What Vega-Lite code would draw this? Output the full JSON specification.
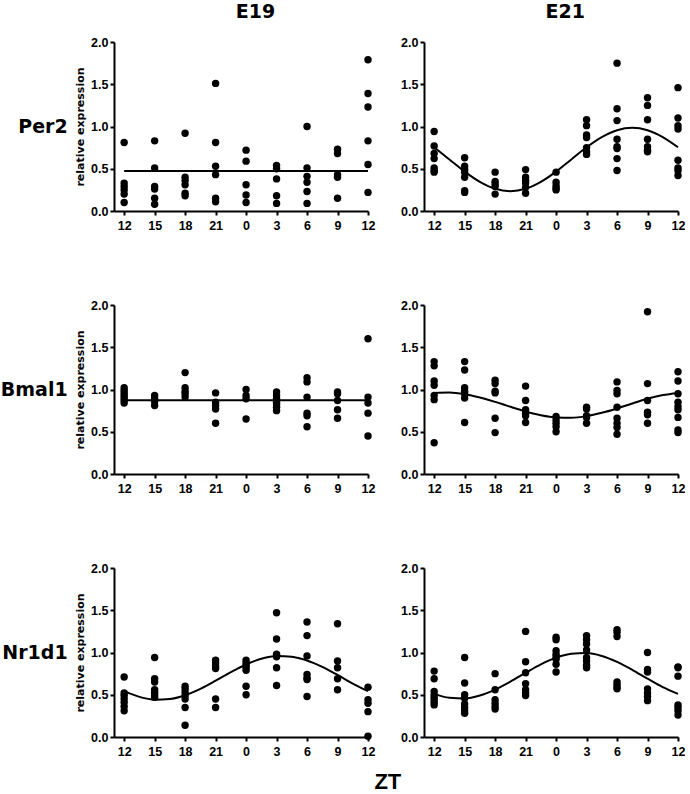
{
  "$schema": "https://vega.github.io/schema/vega-lite/v6.json",
  "padding": {"left": 0, "top": 3, "right": 0, "bottom": 0},
  "background": "white",
  "title": {"text": "ZT", "orient": "bottom", "anchor": "middle", "font": "Liberation Sans", "fontSize": 22, "fontWeight": "bold", "color": "black", "dx": 45, "offset": 14},
  "data": {"values": [
    {"age":"E19","gene":"Per2","kind":"pt","t":0,"v":0.81},{"age":"E19","gene":"Per2","kind":"pt","t":0,"v":0.33},{"age":"E19","gene":"Per2","kind":"pt","t":0,"v":0.29},{"age":"E19","gene":"Per2","kind":"pt","t":0,"v":0.25},{"age":"E19","gene":"Per2","kind":"pt","t":0,"v":0.2},{"age":"E19","gene":"Per2","kind":"pt","t":0,"v":0.1},
    {"age":"E19","gene":"Per2","kind":"pt","t":3,"v":0.83},{"age":"E19","gene":"Per2","kind":"pt","t":3,"v":0.51},{"age":"E19","gene":"Per2","kind":"pt","t":3,"v":0.29},{"age":"E19","gene":"Per2","kind":"pt","t":3,"v":0.26},{"age":"E19","gene":"Per2","kind":"pt","t":3,"v":0.15},{"age":"E19","gene":"Per2","kind":"pt","t":3,"v":0.08},
    {"age":"E19","gene":"Per2","kind":"pt","t":6,"v":0.92},{"age":"E19","gene":"Per2","kind":"pt","t":6,"v":0.4},{"age":"E19","gene":"Per2","kind":"pt","t":6,"v":0.36},{"age":"E19","gene":"Per2","kind":"pt","t":6,"v":0.31},{"age":"E19","gene":"Per2","kind":"pt","t":6,"v":0.21},{"age":"E19","gene":"Per2","kind":"pt","t":6,"v":0.18},
    {"age":"E19","gene":"Per2","kind":"pt","t":9,"v":1.51},{"age":"E19","gene":"Per2","kind":"pt","t":9,"v":0.81},{"age":"E19","gene":"Per2","kind":"pt","t":9,"v":0.53},{"age":"E19","gene":"Per2","kind":"pt","t":9,"v":0.43},{"age":"E19","gene":"Per2","kind":"pt","t":9,"v":0.15},{"age":"E19","gene":"Per2","kind":"pt","t":9,"v":0.11},
    {"age":"E19","gene":"Per2","kind":"pt","t":12,"v":0.72},{"age":"E19","gene":"Per2","kind":"pt","t":12,"v":0.59},{"age":"E19","gene":"Per2","kind":"pt","t":12,"v":0.31},{"age":"E19","gene":"Per2","kind":"pt","t":12,"v":0.19},{"age":"E19","gene":"Per2","kind":"pt","t":12,"v":0.1},
    {"age":"E19","gene":"Per2","kind":"pt","t":15,"v":0.54},{"age":"E19","gene":"Per2","kind":"pt","t":15,"v":0.5},{"age":"E19","gene":"Per2","kind":"pt","t":15,"v":0.38},{"age":"E19","gene":"Per2","kind":"pt","t":15,"v":0.18},{"age":"E19","gene":"Per2","kind":"pt","t":15,"v":0.09},
    {"age":"E19","gene":"Per2","kind":"pt","t":18,"v":1.0},{"age":"E19","gene":"Per2","kind":"pt","t":18,"v":0.51},{"age":"E19","gene":"Per2","kind":"pt","t":18,"v":0.41},{"age":"E19","gene":"Per2","kind":"pt","t":18,"v":0.34},{"age":"E19","gene":"Per2","kind":"pt","t":18,"v":0.23},{"age":"E19","gene":"Per2","kind":"pt","t":18,"v":0.09},
    {"age":"E19","gene":"Per2","kind":"pt","t":21,"v":0.73},{"age":"E19","gene":"Per2","kind":"pt","t":21,"v":0.68},{"age":"E19","gene":"Per2","kind":"pt","t":21,"v":0.43},{"age":"E19","gene":"Per2","kind":"pt","t":21,"v":0.4},{"age":"E19","gene":"Per2","kind":"pt","t":21,"v":0.15},
    {"age":"E19","gene":"Per2","kind":"pt","t":24,"v":1.79},{"age":"E19","gene":"Per2","kind":"pt","t":24,"v":1.39},{"age":"E19","gene":"Per2","kind":"pt","t":24,"v":1.23},{"age":"E19","gene":"Per2","kind":"pt","t":24,"v":0.83},{"age":"E19","gene":"Per2","kind":"pt","t":24,"v":0.55},{"age":"E19","gene":"Per2","kind":"pt","t":24,"v":0.22},

    {"age":"E21","gene":"Per2","kind":"pt","t":0,"v":0.94},{"age":"E21","gene":"Per2","kind":"pt","t":0,"v":0.77},{"age":"E21","gene":"Per2","kind":"pt","t":0,"v":0.68},{"age":"E21","gene":"Per2","kind":"pt","t":0,"v":0.62},{"age":"E21","gene":"Per2","kind":"pt","t":0,"v":0.51},{"age":"E21","gene":"Per2","kind":"pt","t":0,"v":0.48},{"age":"E21","gene":"Per2","kind":"pt","t":0,"v":0.46},
    {"age":"E21","gene":"Per2","kind":"pt","t":3,"v":0.63},{"age":"E21","gene":"Per2","kind":"pt","t":3,"v":0.53},{"age":"E21","gene":"Per2","kind":"pt","t":3,"v":0.49},{"age":"E21","gene":"Per2","kind":"pt","t":3,"v":0.46},{"age":"E21","gene":"Per2","kind":"pt","t":3,"v":0.4},{"age":"E21","gene":"Per2","kind":"pt","t":3,"v":0.24},{"age":"E21","gene":"Per2","kind":"pt","t":3,"v":0.22},
    {"age":"E21","gene":"Per2","kind":"pt","t":6,"v":0.46},{"age":"E21","gene":"Per2","kind":"pt","t":6,"v":0.35},{"age":"E21","gene":"Per2","kind":"pt","t":6,"v":0.32},{"age":"E21","gene":"Per2","kind":"pt","t":6,"v":0.29},{"age":"E21","gene":"Per2","kind":"pt","t":6,"v":0.2},
    {"age":"E21","gene":"Per2","kind":"pt","t":9,"v":0.49},{"age":"E21","gene":"Per2","kind":"pt","t":9,"v":0.4},{"age":"E21","gene":"Per2","kind":"pt","t":9,"v":0.36},{"age":"E21","gene":"Per2","kind":"pt","t":9,"v":0.33},{"age":"E21","gene":"Per2","kind":"pt","t":9,"v":0.28},{"age":"E21","gene":"Per2","kind":"pt","t":9,"v":0.21},
    {"age":"E21","gene":"Per2","kind":"pt","t":12,"v":0.46},{"age":"E21","gene":"Per2","kind":"pt","t":12,"v":0.34},{"age":"E21","gene":"Per2","kind":"pt","t":12,"v":0.3},{"age":"E21","gene":"Per2","kind":"pt","t":12,"v":0.27},{"age":"E21","gene":"Per2","kind":"pt","t":12,"v":0.25},
    {"age":"E21","gene":"Per2","kind":"pt","t":15,"v":1.08},{"age":"E21","gene":"Per2","kind":"pt","t":15,"v":1.01},{"age":"E21","gene":"Per2","kind":"pt","t":15,"v":0.9},{"age":"E21","gene":"Per2","kind":"pt","t":15,"v":0.87},{"age":"E21","gene":"Per2","kind":"pt","t":15,"v":0.75},{"age":"E21","gene":"Per2","kind":"pt","t":15,"v":0.7},{"age":"E21","gene":"Per2","kind":"pt","t":15,"v":0.67},
    {"age":"E21","gene":"Per2","kind":"pt","t":18,"v":1.75},{"age":"E21","gene":"Per2","kind":"pt","t":18,"v":1.21},{"age":"E21","gene":"Per2","kind":"pt","t":18,"v":1.07},{"age":"E21","gene":"Per2","kind":"pt","t":18,"v":0.85},{"age":"E21","gene":"Per2","kind":"pt","t":18,"v":0.76},{"age":"E21","gene":"Per2","kind":"pt","t":18,"v":0.74},{"age":"E21","gene":"Per2","kind":"pt","t":18,"v":0.62},{"age":"E21","gene":"Per2","kind":"pt","t":18,"v":0.48},
    {"age":"E21","gene":"Per2","kind":"pt","t":21,"v":1.34},{"age":"E21","gene":"Per2","kind":"pt","t":21,"v":1.25},{"age":"E21","gene":"Per2","kind":"pt","t":21,"v":1.08},{"age":"E21","gene":"Per2","kind":"pt","t":21,"v":0.85},{"age":"E21","gene":"Per2","kind":"pt","t":21,"v":0.76},{"age":"E21","gene":"Per2","kind":"pt","t":21,"v":0.72},{"age":"E21","gene":"Per2","kind":"pt","t":21,"v":0.7},
    {"age":"E21","gene":"Per2","kind":"pt","t":24,"v":1.46},{"age":"E21","gene":"Per2","kind":"pt","t":24,"v":1.1},{"age":"E21","gene":"Per2","kind":"pt","t":24,"v":1.01},{"age":"E21","gene":"Per2","kind":"pt","t":24,"v":0.97},{"age":"E21","gene":"Per2","kind":"pt","t":24,"v":0.6},{"age":"E21","gene":"Per2","kind":"pt","t":24,"v":0.51},{"age":"E21","gene":"Per2","kind":"pt","t":24,"v":0.48},{"age":"E21","gene":"Per2","kind":"pt","t":24,"v":0.42},

    {"age":"E19","gene":"Bmal1","kind":"pt","t":0,"v":1.02},{"age":"E19","gene":"Bmal1","kind":"pt","t":0,"v":0.99},{"age":"E19","gene":"Bmal1","kind":"pt","t":0,"v":0.96},{"age":"E19","gene":"Bmal1","kind":"pt","t":0,"v":0.93},{"age":"E19","gene":"Bmal1","kind":"pt","t":0,"v":0.9},{"age":"E19","gene":"Bmal1","kind":"pt","t":0,"v":0.87},{"age":"E19","gene":"Bmal1","kind":"pt","t":0,"v":0.84},
    {"age":"E19","gene":"Bmal1","kind":"pt","t":3,"v":0.93},{"age":"E19","gene":"Bmal1","kind":"pt","t":3,"v":0.89},{"age":"E19","gene":"Bmal1","kind":"pt","t":3,"v":0.86},{"age":"E19","gene":"Bmal1","kind":"pt","t":3,"v":0.81},
    {"age":"E19","gene":"Bmal1","kind":"pt","t":6,"v":1.2},{"age":"E19","gene":"Bmal1","kind":"pt","t":6,"v":1.02},{"age":"E19","gene":"Bmal1","kind":"pt","t":6,"v":0.98},{"age":"E19","gene":"Bmal1","kind":"pt","t":6,"v":0.95},{"age":"E19","gene":"Bmal1","kind":"pt","t":6,"v":0.91},
    {"age":"E19","gene":"Bmal1","kind":"pt","t":9,"v":0.96},{"age":"E19","gene":"Bmal1","kind":"pt","t":9,"v":0.85},{"age":"E19","gene":"Bmal1","kind":"pt","t":9,"v":0.81},{"age":"E19","gene":"Bmal1","kind":"pt","t":9,"v":0.77},{"age":"E19","gene":"Bmal1","kind":"pt","t":9,"v":0.6},
    {"age":"E19","gene":"Bmal1","kind":"pt","t":12,"v":1.0},{"age":"E19","gene":"Bmal1","kind":"pt","t":12,"v":0.93},{"age":"E19","gene":"Bmal1","kind":"pt","t":12,"v":0.89},{"age":"E19","gene":"Bmal1","kind":"pt","t":12,"v":0.65},
    {"age":"E19","gene":"Bmal1","kind":"pt","t":15,"v":0.97},{"age":"E19","gene":"Bmal1","kind":"pt","t":15,"v":0.93},{"age":"E19","gene":"Bmal1","kind":"pt","t":15,"v":0.89},{"age":"E19","gene":"Bmal1","kind":"pt","t":15,"v":0.85},{"age":"E19","gene":"Bmal1","kind":"pt","t":15,"v":0.82},{"age":"E19","gene":"Bmal1","kind":"pt","t":15,"v":0.79},{"age":"E19","gene":"Bmal1","kind":"pt","t":15,"v":0.75},
    {"age":"E19","gene":"Bmal1","kind":"pt","t":18,"v":1.14},{"age":"E19","gene":"Bmal1","kind":"pt","t":18,"v":1.09},{"age":"E19","gene":"Bmal1","kind":"pt","t":18,"v":0.91},{"age":"E19","gene":"Bmal1","kind":"pt","t":18,"v":0.72},{"age":"E19","gene":"Bmal1","kind":"pt","t":18,"v":0.69},{"age":"E19","gene":"Bmal1","kind":"pt","t":18,"v":0.56},
    {"age":"E19","gene":"Bmal1","kind":"pt","t":21,"v":0.97},{"age":"E19","gene":"Bmal1","kind":"pt","t":21,"v":0.95},{"age":"E19","gene":"Bmal1","kind":"pt","t":21,"v":0.87},{"age":"E19","gene":"Bmal1","kind":"pt","t":21,"v":0.76},{"age":"E19","gene":"Bmal1","kind":"pt","t":21,"v":0.66},
    {"age":"E19","gene":"Bmal1","kind":"pt","t":24,"v":1.6},{"age":"E19","gene":"Bmal1","kind":"pt","t":24,"v":0.91},{"age":"E19","gene":"Bmal1","kind":"pt","t":24,"v":0.84},{"age":"E19","gene":"Bmal1","kind":"pt","t":24,"v":0.72},{"age":"E19","gene":"Bmal1","kind":"pt","t":24,"v":0.45},

    {"age":"E21","gene":"Bmal1","kind":"pt","t":0,"v":1.33},{"age":"E21","gene":"Bmal1","kind":"pt","t":0,"v":1.28},{"age":"E21","gene":"Bmal1","kind":"pt","t":0,"v":1.1},{"age":"E21","gene":"Bmal1","kind":"pt","t":0,"v":1.05},{"age":"E21","gene":"Bmal1","kind":"pt","t":0,"v":0.93},{"age":"E21","gene":"Bmal1","kind":"pt","t":0,"v":0.88},{"age":"E21","gene":"Bmal1","kind":"pt","t":0,"v":0.37},
    {"age":"E21","gene":"Bmal1","kind":"pt","t":3,"v":1.33},{"age":"E21","gene":"Bmal1","kind":"pt","t":3,"v":1.23},{"age":"E21","gene":"Bmal1","kind":"pt","t":3,"v":1.02},{"age":"E21","gene":"Bmal1","kind":"pt","t":3,"v":0.98},{"age":"E21","gene":"Bmal1","kind":"pt","t":3,"v":0.95},{"age":"E21","gene":"Bmal1","kind":"pt","t":3,"v":0.9},{"age":"E21","gene":"Bmal1","kind":"pt","t":3,"v":0.61},
    {"age":"E21","gene":"Bmal1","kind":"pt","t":6,"v":1.11},{"age":"E21","gene":"Bmal1","kind":"pt","t":6,"v":1.07},{"age":"E21","gene":"Bmal1","kind":"pt","t":6,"v":0.98},{"age":"E21","gene":"Bmal1","kind":"pt","t":6,"v":0.96},{"age":"E21","gene":"Bmal1","kind":"pt","t":6,"v":0.66},{"age":"E21","gene":"Bmal1","kind":"pt","t":6,"v":0.49},
    {"age":"E21","gene":"Bmal1","kind":"pt","t":9,"v":1.04},{"age":"E21","gene":"Bmal1","kind":"pt","t":9,"v":0.87},{"age":"E21","gene":"Bmal1","kind":"pt","t":9,"v":0.76},{"age":"E21","gene":"Bmal1","kind":"pt","t":9,"v":0.72},{"age":"E21","gene":"Bmal1","kind":"pt","t":9,"v":0.69},{"age":"E21","gene":"Bmal1","kind":"pt","t":9,"v":0.61},
    {"age":"E21","gene":"Bmal1","kind":"pt","t":12,"v":0.68},{"age":"E21","gene":"Bmal1","kind":"pt","t":12,"v":0.64},{"age":"E21","gene":"Bmal1","kind":"pt","t":12,"v":0.6},{"age":"E21","gene":"Bmal1","kind":"pt","t":12,"v":0.56},{"age":"E21","gene":"Bmal1","kind":"pt","t":12,"v":0.5},
    {"age":"E21","gene":"Bmal1","kind":"pt","t":15,"v":0.79},{"age":"E21","gene":"Bmal1","kind":"pt","t":15,"v":0.77},{"age":"E21","gene":"Bmal1","kind":"pt","t":15,"v":0.69},{"age":"E21","gene":"Bmal1","kind":"pt","t":15,"v":0.67},{"age":"E21","gene":"Bmal1","kind":"pt","t":15,"v":0.6},
    {"age":"E21","gene":"Bmal1","kind":"pt","t":18,"v":1.09},{"age":"E21","gene":"Bmal1","kind":"pt","t":18,"v":0.99},{"age":"E21","gene":"Bmal1","kind":"pt","t":18,"v":0.95},{"age":"E21","gene":"Bmal1","kind":"pt","t":18,"v":0.79},{"age":"E21","gene":"Bmal1","kind":"pt","t":18,"v":0.66},{"age":"E21","gene":"Bmal1","kind":"pt","t":18,"v":0.6},{"age":"E21","gene":"Bmal1","kind":"pt","t":18,"v":0.55},{"age":"E21","gene":"Bmal1","kind":"pt","t":18,"v":0.47},
    {"age":"E21","gene":"Bmal1","kind":"pt","t":21,"v":1.92},{"age":"E21","gene":"Bmal1","kind":"pt","t":21,"v":1.07},{"age":"E21","gene":"Bmal1","kind":"pt","t":21,"v":0.87},{"age":"E21","gene":"Bmal1","kind":"pt","t":21,"v":0.73},{"age":"E21","gene":"Bmal1","kind":"pt","t":21,"v":0.7},{"age":"E21","gene":"Bmal1","kind":"pt","t":21,"v":0.6},
    {"age":"E21","gene":"Bmal1","kind":"pt","t":24,"v":1.21},{"age":"E21","gene":"Bmal1","kind":"pt","t":24,"v":1.1},{"age":"E21","gene":"Bmal1","kind":"pt","t":24,"v":0.95},{"age":"E21","gene":"Bmal1","kind":"pt","t":24,"v":0.85},{"age":"E21","gene":"Bmal1","kind":"pt","t":24,"v":0.8},{"age":"E21","gene":"Bmal1","kind":"pt","t":24,"v":0.76},{"age":"E21","gene":"Bmal1","kind":"pt","t":24,"v":0.67},{"age":"E21","gene":"Bmal1","kind":"pt","t":24,"v":0.52},{"age":"E21","gene":"Bmal1","kind":"pt","t":24,"v":0.49},

    {"age":"E19","gene":"Nr1d1","kind":"pt","t":0,"v":0.71},{"age":"E19","gene":"Nr1d1","kind":"pt","t":0,"v":0.52},{"age":"E19","gene":"Nr1d1","kind":"pt","t":0,"v":0.49},{"age":"E19","gene":"Nr1d1","kind":"pt","t":0,"v":0.45},{"age":"E19","gene":"Nr1d1","kind":"pt","t":0,"v":0.41},{"age":"E19","gene":"Nr1d1","kind":"pt","t":0,"v":0.36},{"age":"E19","gene":"Nr1d1","kind":"pt","t":0,"v":0.31},
    {"age":"E19","gene":"Nr1d1","kind":"pt","t":3,"v":0.94},{"age":"E19","gene":"Nr1d1","kind":"pt","t":3,"v":0.69},{"age":"E19","gene":"Nr1d1","kind":"pt","t":3,"v":0.65},{"age":"E19","gene":"Nr1d1","kind":"pt","t":3,"v":0.56},{"age":"E19","gene":"Nr1d1","kind":"pt","t":3,"v":0.53},{"age":"E19","gene":"Nr1d1","kind":"pt","t":3,"v":0.5},{"age":"E19","gene":"Nr1d1","kind":"pt","t":3,"v":0.47},
    {"age":"E19","gene":"Nr1d1","kind":"pt","t":6,"v":0.6},{"age":"E19","gene":"Nr1d1","kind":"pt","t":6,"v":0.57},{"age":"E19","gene":"Nr1d1","kind":"pt","t":6,"v":0.53},{"age":"E19","gene":"Nr1d1","kind":"pt","t":6,"v":0.49},{"age":"E19","gene":"Nr1d1","kind":"pt","t":6,"v":0.45},{"age":"E19","gene":"Nr1d1","kind":"pt","t":6,"v":0.35},{"age":"E19","gene":"Nr1d1","kind":"pt","t":6,"v":0.14},
    {"age":"E19","gene":"Nr1d1","kind":"pt","t":9,"v":0.91},{"age":"E19","gene":"Nr1d1","kind":"pt","t":9,"v":0.88},{"age":"E19","gene":"Nr1d1","kind":"pt","t":9,"v":0.84},{"age":"E19","gene":"Nr1d1","kind":"pt","t":9,"v":0.81},{"age":"E19","gene":"Nr1d1","kind":"pt","t":9,"v":0.45},{"age":"E19","gene":"Nr1d1","kind":"pt","t":9,"v":0.35},
    {"age":"E19","gene":"Nr1d1","kind":"pt","t":12,"v":0.91},{"age":"E19","gene":"Nr1d1","kind":"pt","t":12,"v":0.88},{"age":"E19","gene":"Nr1d1","kind":"pt","t":12,"v":0.85},{"age":"E19","gene":"Nr1d1","kind":"pt","t":12,"v":0.82},{"age":"E19","gene":"Nr1d1","kind":"pt","t":12,"v":0.79},{"age":"E19","gene":"Nr1d1","kind":"pt","t":12,"v":0.6},{"age":"E19","gene":"Nr1d1","kind":"pt","t":12,"v":0.5},
    {"age":"E19","gene":"Nr1d1","kind":"pt","t":15,"v":1.47},{"age":"E19","gene":"Nr1d1","kind":"pt","t":15,"v":1.16},{"age":"E19","gene":"Nr1d1","kind":"pt","t":15,"v":0.98},{"age":"E19","gene":"Nr1d1","kind":"pt","t":15,"v":0.95},{"age":"E19","gene":"Nr1d1","kind":"pt","t":15,"v":0.82},{"age":"E19","gene":"Nr1d1","kind":"pt","t":15,"v":0.61},
    {"age":"E19","gene":"Nr1d1","kind":"pt","t":18,"v":1.36},{"age":"E19","gene":"Nr1d1","kind":"pt","t":18,"v":1.2},{"age":"E19","gene":"Nr1d1","kind":"pt","t":18,"v":0.96},{"age":"E19","gene":"Nr1d1","kind":"pt","t":18,"v":0.74},{"age":"E19","gene":"Nr1d1","kind":"pt","t":18,"v":0.7},{"age":"E19","gene":"Nr1d1","kind":"pt","t":18,"v":0.68},{"age":"E19","gene":"Nr1d1","kind":"pt","t":18,"v":0.48},
    {"age":"E19","gene":"Nr1d1","kind":"pt","t":21,"v":1.34},{"age":"E19","gene":"Nr1d1","kind":"pt","t":21,"v":0.9},{"age":"E19","gene":"Nr1d1","kind":"pt","t":21,"v":0.82},{"age":"E19","gene":"Nr1d1","kind":"pt","t":21,"v":0.69},{"age":"E19","gene":"Nr1d1","kind":"pt","t":21,"v":0.56},
    {"age":"E19","gene":"Nr1d1","kind":"pt","t":24,"v":0.59},{"age":"E19","gene":"Nr1d1","kind":"pt","t":24,"v":0.44},{"age":"E19","gene":"Nr1d1","kind":"pt","t":24,"v":0.4},{"age":"E19","gene":"Nr1d1","kind":"pt","t":24,"v":0.3},{"age":"E19","gene":"Nr1d1","kind":"pt","t":24,"v":0.01},

    {"age":"E21","gene":"Nr1d1","kind":"pt","t":0,"v":0.78},{"age":"E21","gene":"Nr1d1","kind":"pt","t":0,"v":0.69},{"age":"E21","gene":"Nr1d1","kind":"pt","t":0,"v":0.54},{"age":"E21","gene":"Nr1d1","kind":"pt","t":0,"v":0.5},{"age":"E21","gene":"Nr1d1","kind":"pt","t":0,"v":0.47},{"age":"E21","gene":"Nr1d1","kind":"pt","t":0,"v":0.44},{"age":"E21","gene":"Nr1d1","kind":"pt","t":0,"v":0.41},{"age":"E21","gene":"Nr1d1","kind":"pt","t":0,"v":0.38},
    {"age":"E21","gene":"Nr1d1","kind":"pt","t":3,"v":0.94},{"age":"E21","gene":"Nr1d1","kind":"pt","t":3,"v":0.64},{"age":"E21","gene":"Nr1d1","kind":"pt","t":3,"v":0.5},{"age":"E21","gene":"Nr1d1","kind":"pt","t":3,"v":0.46},{"age":"E21","gene":"Nr1d1","kind":"pt","t":3,"v":0.39},{"age":"E21","gene":"Nr1d1","kind":"pt","t":3,"v":0.35},{"age":"E21","gene":"Nr1d1","kind":"pt","t":3,"v":0.31},{"age":"E21","gene":"Nr1d1","kind":"pt","t":3,"v":0.28},
    {"age":"E21","gene":"Nr1d1","kind":"pt","t":6,"v":0.75},{"age":"E21","gene":"Nr1d1","kind":"pt","t":6,"v":0.56},{"age":"E21","gene":"Nr1d1","kind":"pt","t":6,"v":0.44},{"age":"E21","gene":"Nr1d1","kind":"pt","t":6,"v":0.4},{"age":"E21","gene":"Nr1d1","kind":"pt","t":6,"v":0.36},{"age":"E21","gene":"Nr1d1","kind":"pt","t":6,"v":0.33},
    {"age":"E21","gene":"Nr1d1","kind":"pt","t":9,"v":1.25},{"age":"E21","gene":"Nr1d1","kind":"pt","t":9,"v":0.89},{"age":"E21","gene":"Nr1d1","kind":"pt","t":9,"v":0.76},{"age":"E21","gene":"Nr1d1","kind":"pt","t":9,"v":0.63},{"age":"E21","gene":"Nr1d1","kind":"pt","t":9,"v":0.56},{"age":"E21","gene":"Nr1d1","kind":"pt","t":9,"v":0.52},{"age":"E21","gene":"Nr1d1","kind":"pt","t":9,"v":0.49},
    {"age":"E21","gene":"Nr1d1","kind":"pt","t":12,"v":1.18},{"age":"E21","gene":"Nr1d1","kind":"pt","t":12,"v":1.15},{"age":"E21","gene":"Nr1d1","kind":"pt","t":12,"v":1.02},{"age":"E21","gene":"Nr1d1","kind":"pt","t":12,"v":0.98},{"age":"E21","gene":"Nr1d1","kind":"pt","t":12,"v":0.95},{"age":"E21","gene":"Nr1d1","kind":"pt","t":12,"v":0.92},{"age":"E21","gene":"Nr1d1","kind":"pt","t":12,"v":0.86},{"age":"E21","gene":"Nr1d1","kind":"pt","t":12,"v":0.77},
    {"age":"E21","gene":"Nr1d1","kind":"pt","t":15,"v":1.2},{"age":"E21","gene":"Nr1d1","kind":"pt","t":15,"v":1.15},{"age":"E21","gene":"Nr1d1","kind":"pt","t":15,"v":1.1},{"age":"E21","gene":"Nr1d1","kind":"pt","t":15,"v":1.03},{"age":"E21","gene":"Nr1d1","kind":"pt","t":15,"v":0.94},{"age":"E21","gene":"Nr1d1","kind":"pt","t":15,"v":0.9},{"age":"E21","gene":"Nr1d1","kind":"pt","t":15,"v":0.85},{"age":"E21","gene":"Nr1d1","kind":"pt","t":15,"v":0.82},
    {"age":"E21","gene":"Nr1d1","kind":"pt","t":18,"v":1.27},{"age":"E21","gene":"Nr1d1","kind":"pt","t":18,"v":1.24},{"age":"E21","gene":"Nr1d1","kind":"pt","t":18,"v":1.19},{"age":"E21","gene":"Nr1d1","kind":"pt","t":18,"v":0.65},{"age":"E21","gene":"Nr1d1","kind":"pt","t":18,"v":0.62},{"age":"E21","gene":"Nr1d1","kind":"pt","t":18,"v":0.59},{"age":"E21","gene":"Nr1d1","kind":"pt","t":18,"v":0.57},
    {"age":"E21","gene":"Nr1d1","kind":"pt","t":21,"v":1.0},{"age":"E21","gene":"Nr1d1","kind":"pt","t":21,"v":0.8},{"age":"E21","gene":"Nr1d1","kind":"pt","t":21,"v":0.77},{"age":"E21","gene":"Nr1d1","kind":"pt","t":21,"v":0.57},{"age":"E21","gene":"Nr1d1","kind":"pt","t":21,"v":0.52},{"age":"E21","gene":"Nr1d1","kind":"pt","t":21,"v":0.48},{"age":"E21","gene":"Nr1d1","kind":"pt","t":21,"v":0.43},
    {"age":"E21","gene":"Nr1d1","kind":"pt","t":24,"v":0.83},{"age":"E21","gene":"Nr1d1","kind":"pt","t":24,"v":0.82},{"age":"E21","gene":"Nr1d1","kind":"pt","t":24,"v":0.72},{"age":"E21","gene":"Nr1d1","kind":"pt","t":24,"v":0.38},{"age":"E21","gene":"Nr1d1","kind":"pt","t":24,"v":0.35},{"age":"E21","gene":"Nr1d1","kind":"pt","t":24,"v":0.31},{"age":"E21","gene":"Nr1d1","kind":"pt","t":24,"v":0.26},

    {"age":"E19","gene":"Per2","kind":"fit","t":0,"v":0.474},{"age":"E19","gene":"Per2","kind":"fit","t":24,"v":0.474},
    {"age":"E19","gene":"Bmal1","kind":"fit","t":0,"v":0.874},{"age":"E19","gene":"Bmal1","kind":"fit","t":24,"v":0.874},

    {"age":"E21","gene":"Per2","kind":"fit","t":0,"v":0.754},{"age":"E21","gene":"Per2","kind":"fit","t":1.5,"v":0.61},{"age":"E21","gene":"Per2","kind":"fit","t":3,"v":0.466},{"age":"E21","gene":"Per2","kind":"fit","t":4.5,"v":0.345},{"age":"E21","gene":"Per2","kind":"fit","t":6,"v":0.263},{"age":"E21","gene":"Per2","kind":"fit","t":7.5,"v":0.235},{"age":"E21","gene":"Per2","kind":"fit","t":9,"v":0.263},{"age":"E21","gene":"Per2","kind":"fit","t":10.5,"v":0.345},{"age":"E21","gene":"Per2","kind":"fit","t":12,"v":0.466},{"age":"E21","gene":"Per2","kind":"fit","t":13.5,"v":0.61},{"age":"E21","gene":"Per2","kind":"fit","t":15,"v":0.754},{"age":"E21","gene":"Per2","kind":"fit","t":16.5,"v":0.875},{"age":"E21","gene":"Per2","kind":"fit","t":18,"v":0.956},{"age":"E21","gene":"Per2","kind":"fit","t":19.5,"v":0.985},{"age":"E21","gene":"Per2","kind":"fit","t":21,"v":0.956},{"age":"E21","gene":"Per2","kind":"fit","t":22.5,"v":0.875},{"age":"E21","gene":"Per2","kind":"fit","t":24,"v":0.754},

    {"age":"E21","gene":"Bmal1","kind":"fit","t":0,"v":0.96},{"age":"E21","gene":"Bmal1","kind":"fit","t":1.5,"v":0.964},{"age":"E21","gene":"Bmal1","kind":"fit","t":3,"v":0.945},{"age":"E21","gene":"Bmal1","kind":"fit","t":4.5,"v":0.906},{"age":"E21","gene":"Bmal1","kind":"fit","t":6,"v":0.854},{"age":"E21","gene":"Bmal1","kind":"fit","t":7.5,"v":0.795},{"age":"E21","gene":"Bmal1","kind":"fit","t":9,"v":0.74},{"age":"E21","gene":"Bmal1","kind":"fit","t":10.5,"v":0.696},{"age":"E21","gene":"Bmal1","kind":"fit","t":12,"v":0.67},{"age":"E21","gene":"Bmal1","kind":"fit","t":13.5,"v":0.666},{"age":"E21","gene":"Bmal1","kind":"fit","t":15,"v":0.685},{"age":"E21","gene":"Bmal1","kind":"fit","t":16.5,"v":0.724},{"age":"E21","gene":"Bmal1","kind":"fit","t":18,"v":0.776},{"age":"E21","gene":"Bmal1","kind":"fit","t":19.5,"v":0.835},{"age":"E21","gene":"Bmal1","kind":"fit","t":21,"v":0.89},{"age":"E21","gene":"Bmal1","kind":"fit","t":22.5,"v":0.934},{"age":"E21","gene":"Bmal1","kind":"fit","t":24,"v":0.96},

    {"age":"E19","gene":"Nr1d1","kind":"fit","t":0,"v":0.542},{"age":"E19","gene":"Nr1d1","kind":"fit","t":1.5,"v":0.475},{"age":"E19","gene":"Nr1d1","kind":"fit","t":3,"v":0.442},{"age":"E19","gene":"Nr1d1","kind":"fit","t":4.5,"v":0.449},{"age":"E19","gene":"Nr1d1","kind":"fit","t":6,"v":0.494},{"age":"E19","gene":"Nr1d1","kind":"fit","t":7.5,"v":0.57},{"age":"E19","gene":"Nr1d1","kind":"fit","t":9,"v":0.666},{"age":"E19","gene":"Nr1d1","kind":"fit","t":10.5,"v":0.767},{"age":"E19","gene":"Nr1d1","kind":"fit","t":12,"v":0.858},{"age":"E19","gene":"Nr1d1","kind":"fit","t":13.5,"v":0.925},{"age":"E19","gene":"Nr1d1","kind":"fit","t":15,"v":0.958},{"age":"E19","gene":"Nr1d1","kind":"fit","t":16.5,"v":0.951},{"age":"E19","gene":"Nr1d1","kind":"fit","t":18,"v":0.906},{"age":"E19","gene":"Nr1d1","kind":"fit","t":19.5,"v":0.83},{"age":"E19","gene":"Nr1d1","kind":"fit","t":21,"v":0.734},{"age":"E19","gene":"Nr1d1","kind":"fit","t":22.5,"v":0.633},{"age":"E19","gene":"Nr1d1","kind":"fit","t":24,"v":0.542},

    {"age":"E21","gene":"Nr1d1","kind":"fit","t":0,"v":0.511},{"age":"E21","gene":"Nr1d1","kind":"fit","t":1.5,"v":0.464},{"age":"E21","gene":"Nr1d1","kind":"fit","t":3,"v":0.457},{"age":"E21","gene":"Nr1d1","kind":"fit","t":4.5,"v":0.491},{"age":"E21","gene":"Nr1d1","kind":"fit","t":6,"v":0.561},{"age":"E21","gene":"Nr1d1","kind":"fit","t":7.5,"v":0.655},{"age":"E21","gene":"Nr1d1","kind":"fit","t":9,"v":0.76},{"age":"E21","gene":"Nr1d1","kind":"fit","t":10.5,"v":0.86},{"age":"E21","gene":"Nr1d1","kind":"fit","t":12,"v":0.939},{"age":"E21","gene":"Nr1d1","kind":"fit","t":13.5,"v":0.986},{"age":"E21","gene":"Nr1d1","kind":"fit","t":15,"v":0.993},{"age":"E21","gene":"Nr1d1","kind":"fit","t":16.5,"v":0.959},{"age":"E21","gene":"Nr1d1","kind":"fit","t":18,"v":0.889},{"age":"E21","gene":"Nr1d1","kind":"fit","t":19.5,"v":0.795},{"age":"E21","gene":"Nr1d1","kind":"fit","t":21,"v":0.69},{"age":"E21","gene":"Nr1d1","kind":"fit","t":22.5,"v":0.59},{"age":"E21","gene":"Nr1d1","kind":"fit","t":24,"v":0.511}
  ]},
  "spacing": 25,
  "hconcat": [
    {
      "transform": [{"filter": "datum.age === 'E19'"}],
      "title": {"text": "E19", "anchor": "start", "frame": "bounds", "dx": 235, "font": "DejaVu Sans", "fontSize": 19, "fontWeight": "bold", "color": "black", "offset": 14},
      "facet": {"row": {"field": "gene", "type": "nominal", "sort": ["Per2", "Bmal1", "Nr1d1"],
        "header": {"title": null, "labelAngle": 0, "labelAlign": "left", "labelBaseline": "middle", "labelFont": "DejaVu Sans", "labelFontWeight": "bold", "labelFontSize": 19, "labelColor": "black", "labelPadding": 7}}},
      "spacing": {"row": 73},
      "resolve": {"axis": {"x": "independent"}},
      "spec": {
        "width": 254, "height": 169,
        "encoding": {
          "x": {"field": "t", "type": "quantitative", "scale": {"domain": [-1, 24], "nice": false, "zero": false},
            "axis": {"values": [0, 3, 6, 9, 12, 15, 18, 21, 24], "labelExpr": "(datum.value + 12) % 24", "title": null, "labelOverlap": false, "labelFlush": false}},
          "y": {"field": "v", "type": "quantitative", "scale": {"domain": [0, 2], "nice": false},
            "axis": {"values": [0, 0.5, 1, 1.5, 2], "format": ".1f", "title": "relative expression", "labelFlush": false, "labelOverlap": false}}
        },
        "layer": [
          {"transform": [{"filter": "datum.kind === 'fit'"}], "mark": {"type": "line", "color": "black", "strokeWidth": 2, "interpolate": "monotone"}},
          {"transform": [{"filter": "datum.kind === 'pt'"}], "mark": {"type": "circle", "color": "black", "opacity": 1, "size": 55}}
        ]
      }
    },
    {
      "transform": [{"filter": "datum.age === 'E21'"}],
      "title": {"text": "E21", "anchor": "start", "frame": "bounds", "dx": 145, "font": "DejaVu Sans", "fontSize": 19, "fontWeight": "bold", "color": "black", "offset": 14},
      "facet": {"row": {"field": "gene", "type": "nominal", "sort": ["Per2", "Bmal1", "Nr1d1"],
        "header": {"title": null, "labels": false}}},
      "spacing": {"row": 73},
      "resolve": {"axis": {"x": "independent"}},
      "spec": {
        "width": 254, "height": 169,
        "encoding": {
          "x": {"field": "t", "type": "quantitative", "scale": {"domain": [-1, 24], "nice": false, "zero": false},
            "axis": {"values": [0, 3, 6, 9, 12, 15, 18, 21, 24], "labelExpr": "(datum.value + 12) % 24", "title": null, "labelOverlap": false, "labelFlush": false}},
          "y": {"field": "v", "type": "quantitative", "scale": {"domain": [0, 2], "nice": false},
            "axis": {"values": [0, 0.5, 1, 1.5, 2], "format": ".1f", "title": null, "labelFlush": false, "labelOverlap": false}}
        },
        "layer": [
          {"transform": [{"filter": "datum.kind === 'fit'"}], "mark": {"type": "line", "color": "black", "strokeWidth": 2, "interpolate": "monotone"}},
          {"transform": [{"filter": "datum.kind === 'pt'"}], "mark": {"type": "circle", "color": "black", "opacity": 1, "size": 55}}
        ]
      }
    }
  ],
  "config": {
    "view": {"stroke": null},
    "axis": {"domainColor": "black", "domainWidth": 2, "tickColor": "black", "tickWidth": 2, "tickSize": 4, "grid": false,
      "labelFont": "Liberation Sans", "labelFontWeight": "bold", "labelFontSize": 12.5, "labelColor": "black",
      "titleFont": "DejaVu Sans", "titleFontWeight": "bold", "titleFontSize": 11, "titleColor": "black"},
    "axisX": {"labelPadding": 4},
    "axisY": {"labelPadding": 2, "titlePadding": 5}
  }
}
